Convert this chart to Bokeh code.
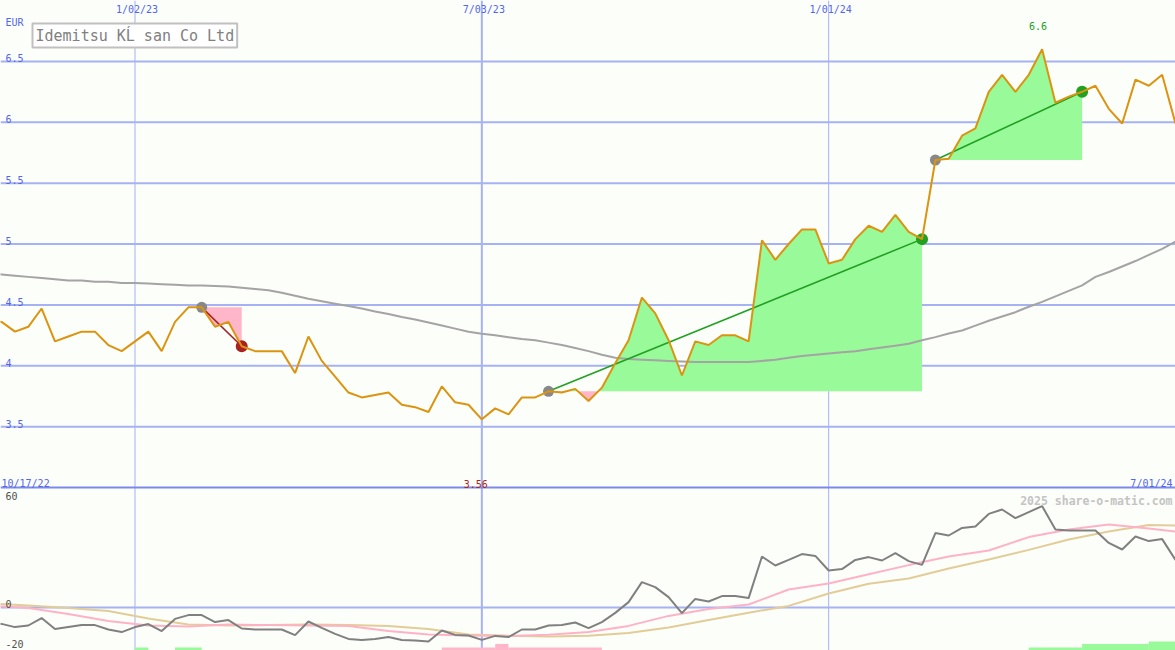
import numpy as np
import pandas as pd
from bokeh.plotting import figure
from bokeh.models import Range1d, Span, Label
from bokeh.core.properties import value
from bokeh.embed import file_html
from bokeh.resources import INLINE

# ---------------- data ----------------
title = "Idemitsu KĹ san Co Ltd"
currency = "EUR"
first_date = "2022-10-17"          # weekly closes, Mondays

close = [4.37, 4.36, 4.28, 4.32, 4.47, 4.20, 4.24, 4.28, 4.28, 4.17,
         4.12, 4.20, 4.28, 4.12, 4.36, 4.48, 4.48, 4.32, 4.36, 4.16,
         4.12, 4.12, 4.12, 3.94, 4.24, 4.04, 3.91, 3.78, 3.74, 3.76,
         3.78, 3.68, 3.66, 3.62, 3.83, 3.70, 3.68, 3.56, 3.65, 3.60,
         3.74, 3.74, 3.79, 3.78, 3.81, 3.71, 3.82, 4.02, 4.21, 4.56,
         4.43, 4.21, 3.92, 4.20, 4.17, 4.25, 4.25, 4.20, 5.03, 4.87,
         5.00, 5.12, 5.12, 4.84, 4.87, 5.04, 5.15, 5.10, 5.24, 5.10,
         5.04, 5.69, 5.70, 5.89, 5.95, 6.25, 6.39, 6.25, 6.39, 6.60,
         6.16, 6.21, 6.25, 6.30, 6.11, 5.99, 6.35, 6.30, 6.39, 5.99]

long_ma = [4.76, 4.75, 4.74, 4.73, 4.72, 4.71, 4.70, 4.70, 4.69, 4.69,
           4.68, 4.68, 4.675, 4.67, 4.665, 4.66, 4.66, 4.655, 4.65, 4.64,
           4.63, 4.62, 4.60, 4.575, 4.55, 4.53, 4.51, 4.49, 4.47, 4.445,
           4.425, 4.40, 4.38, 4.355, 4.33, 4.305, 4.28, 4.263, 4.25, 4.235,
           4.22, 4.21, 4.19, 4.17, 4.145, 4.12, 4.09, 4.065, 4.055, 4.05,
           4.045, 4.04, 4.035, 4.03, 4.03, 4.03, 4.03, 4.03, 4.04, 4.05,
           4.065, 4.08, 4.09, 4.10, 4.11, 4.12, 4.135, 4.15, 4.165, 4.18,
           4.21, 4.235, 4.265, 4.29, 4.33, 4.37, 4.405, 4.44, 4.485, 4.525,
           4.57, 4.615, 4.66, 4.73, 4.77, 4.815, 4.86, 4.91, 4.96, 5.02]

momentum = [-8.0, -8.2, -9.8, -9.0, -5.3, -10.8, -9.8, -8.8, -8.8, -11.0,
            -12.3, -9.8, -8.3, -11.8, -5.7, -3.8, -3.8, -7.3, -6.3, -10.5,
            -11.0, -11.0, -11.0, -13.8, -7.0, -10.2, -13.2, -15.7, -16.2, -15.7,
            -14.8, -16.2, -16.5, -17.0, -11.5, -13.7, -14.0, -16.2, -14.2, -14.8,
            -11.0, -11.0, -9.0, -8.8, -7.5, -10.3, -7.3, -2.7, 2.7, 12.7,
            10.2, 5.2, -2.8, 4.3, 3.0, 5.7, 5.7, 4.7, 25.5, 21.0,
            23.8, 26.7, 25.8, 18.5, 19.2, 23.8, 25.2, 23.5, 27.2, 23.2,
            21.3, 37.2, 36.0, 39.8, 40.5, 46.8, 49.0, 44.7, 47.7, 50.7,
            39.0, 38.5, 38.5, 38.5, 32.3, 29.0, 35.5, 33.2, 34.2, 23.8]

avg_weeks = [0, 3, 6, 9, 12, 15, 18, 21, 24, 27, 30, 33, 36, 39, 42, 45,
             48, 51, 54, 57, 60, 63, 66, 69, 72, 75, 78, 81, 84, 87, 89]
avg_fast = [1.0, -0.3, -3.3, -6.8, -9.0, -9.5, -8.5, -8.8, -9.0, -9.3, -11.8,
            -13.5, -14.0, -14.3, -13.6, -12.3, -9.2, -4.2, -0.8, 1.5, 9.0,
            12.0, 16.6, 21.2, 25.5, 28.5, 35.2, 39.0, 41.5, 39.5, 38.0]
avg_slow = [2.0, 1.0, -0.2, -1.8, -5.5, -8.5, -9.0, -8.8, -8.5, -8.8, -9.2,
            -10.8, -13.5, -14.1, -14.5, -14.1, -12.8, -10.0, -6.2, -2.6, 0.8,
            7.0, 11.9, 14.5, 19.5, 24.0, 28.8, 34.0, 38.0, 41.2, 41.0]

# trade signals (week index of entry and exit)
sig_start = [16, 42, 71]
sig_end = [19, 70, 82]
sig_kind = ["sell", "buy", "buy"]

# signal strength bars in lower panel
bar_start = ["2023-01-02", "2023-01-23", "2023-06-12", "2023-07-10", "2023-07-17",
             "2024-04-15", "2024-05-13", "2024-06-17"]
bar_end = ["2023-01-09", "2023-02-06", "2023-07-10", "2023-07-17", "2023-09-04",
           "2024-05-13", "2024-06-17", "2024-07-08"]
bar_height = [1.5, 1.5, 1.5, 3.3, 1.5, 1.5, 3.3, 4.5]
bar_kind = ["buy", "buy", "sell", "sell", "sell", "buy", "buy", "buy"]

price_ticks = [3.5, 4.0, 4.5, 5.0, 5.5, 6.0, 6.5]
price_tick_labels = ["3.5", "4", "4.5", "5", "5.5", "6", "6.5"]
osc_ticks = [60, 0, -20]
osc_tick_labels = ["60", "0", "-20"]
date_ticks = ["2023-01-02", "2023-07-03", "2024-01-01"]
date_tick_labels = ["1/02/23", "7/03/23", "1/01/24"]
start_label = "10/17/22"
end_label = "7/01/24"
watermark = "2025 share-o-matic.com"

# ---------------- styling ----------------
W, H = 1175, 650
BG = "#fcfefa"
GRID = "#a6b2f2"
SEP = "#7b89ea"
TICK_BLUE = "#5266ee"
PRICE_C = "#dc9410"
MA_C = "#a4a4a4"
GREEN_FILL = "#98fa98"
PINK_FILL = "#ffb6c8"
GREEN_LINE = "#22a022"
RED_LINE = "#a82222"
DOT_GRAY = "#888888"
MONO = value("DejaVu Sans Mono")

view_start = "2022-10-23 10:00"
view_end = "2024-07-01"
PRICE_TOP, PRICE_SPLIT = 7.0, 3.0
OSC_SPLIT, OSC_BOTTOM = 60.0, -21.5
split_frac = 487.0 / 650.0          # top panel share of height
price_bottom = PRICE_SPLIT - (PRICE_TOP - PRICE_SPLIT) * (1 - split_frac) / split_frac
osc_top = OSC_BOTTOM + (OSC_SPLIT - OSC_BOTTOM) / (1 - split_frac)


def ms(d):
    return pd.Timestamp(d).value / 1e6


dates = pd.date_range(first_date, periods=len(close), freq="7D")
xs = np.array([ms(d) for d in dates])
close_a = np.array(close)

p = figure(width=W, height=H, output_backend="svg", toolbar_location=None,
           x_axis_type="datetime", x_axis_location=None, y_axis_location=None,
           x_range=Range1d(ms(view_start), ms(view_end)),
           y_range=Range1d(price_bottom, PRICE_TOP),
           min_border=0, min_border_left=0, min_border_right=0,
           min_border_top=0, min_border_bottom=0,
           background_fill_color=BG, border_fill_color=BG, outline_line_color=None)
p.extra_y_ranges = {"osc": Range1d(OSC_BOTTOM, osc_top)}
p.grid.visible = False

# grid lines
for t in price_ticks:
    p.add_layout(Span(location=t, dimension="width", line_color=GRID,
                      line_width=2, level="underlay"))
for d, lw in zip(date_ticks, [1, 2, 1]):
    p.add_layout(Span(location=ms(d), dimension="height", line_color=GRID,
                      line_width=lw, level="underlay"))
p.add_layout(Span(location=0, dimension="width", y_range_name="osc",
                  line_color=GRID, line_width=2, level="underlay"))
p.add_layout(Span(location=PRICE_SPLIT, dimension="width", line_color=SEP,
                  line_width=2, level="underlay"))


# signal shading
def refine(x, y, level):
    rx, ry = [x[0]], [y[0]]
    for i in range(1, len(x)):
        a, b = y[i - 1] - level, y[i] - level
        if a * b < 0:
            t = a / (a - b)
            rx.append(x[i - 1] + t * (x[i] - x[i - 1]))
            ry.append(level)
        rx.append(x[i])
        ry.append(y[i])
    return np.array(rx), np.array(ry)


for s, e, k in zip(sig_start, sig_end, sig_kind):
    lvl = close_a[s]
    rx, ry = refine(xs[s:e + 1], close_a[s:e + 1], lvl)
    p.varea(x=rx, y1=np.full(len(rx), lvl), y2=np.maximum(ry, lvl),
            fill_color=GREEN_FILL)
    p.varea(x=rx, y1=np.full(len(rx), lvl), y2=np.minimum(ry, lvl),
            fill_color=PINK_FILL)

# long moving average (drawn over the shading)
p.line(xs, long_ma, line_color=MA_C, line_width=2)

for s, e, k in zip(sig_start, sig_end, sig_kind):
    c = GREEN_LINE if k == "buy" else RED_LINE
    p.line([xs[s], xs[e]], [close_a[s], close_a[e]], line_color=c, line_width=1.6)
    p.scatter([xs[s]], [close_a[s]], size=11, fill_color=DOT_GRAY, line_color=None)
    p.scatter([xs[e]], [close_a[e]], size=12, fill_color=c, line_color=None)

# price
p.line(xs, close_a, line_color=PRICE_C, line_width=2)

# lower panel
bx = np.array([ms(dates[0]) + w * 7 * 86400000.0 for w in avg_weeks])
p.line(bx, avg_slow, y_range_name="osc", line_color="#e2cc98", line_width=2)
p.line(bx, avg_fast, y_range_name="osc", line_color="#ffb2c6", line_width=2)
p.line(xs, momentum, y_range_name="osc", line_color="#808080", line_width=2)
p.quad(left=[ms(d) for d in bar_start], right=[ms(d) for d in bar_end],
       bottom=[OSC_BOTTOM - 5] * len(bar_height),
       top=[OSC_BOTTOM + h for h in bar_height],
       fill_color=[GREEN_FILL if k == "buy" else PINK_FILL for k in bar_kind],
       line_color=None, y_range_name="osc")

# ---------------- texts ----------------
x0, x1 = ms(view_start), ms(view_end)
p.text(x=[x0] * len(price_ticks), y=price_ticks, text=price_tick_labels,
       x_offset=5, y_offset=-3, text_font=MONO, text_font_size="10px",
       text_color=TICK_BLUE, text_baseline="alphabetic", text_align="left")
p.text(x=[x0], y=[PRICE_TOP], text=[currency], x_offset=5, y_offset=16,
       text_font=MONO, text_font_size="10px", text_color=TICK_BLUE,
       text_baseline="top", text_align="left")
p.text(x=[ms(d) for d in date_ticks], y=[PRICE_TOP] * 3, text=date_tick_labels,
       x_offset=2, y_offset=3, text_font=MONO, text_font_size="10px",
       text_color=TICK_BLUE, text_baseline="top", text_align="center")
p.text(x=[x0], y=[PRICE_SPLIT], text=[start_label], x_offset=1, y_offset=-4,
       text_font=MONO, text_font_size="10px", text_color=TICK_BLUE,
       text_baseline="alphabetic", text_align="left")
p.text(x=[x1], y=[PRICE_SPLIT], text=[end_label], x_offset=-3, y_offset=-4,
       text_font=MONO, text_font_size="10px", text_color=TICK_BLUE,
       text_baseline="alphabetic", text_align="right")

imin, imax = int(np.argmin(close_a)), int(np.argmax(close_a))
p.text(x=[xs[imin]], y=[PRICE_SPLIT], text=[f"{close_a[imin]:.2f}"],
       x_offset=-6, y_offset=-4, text_font=MONO, text_font_size="10px",
       text_color="#b22222", text_baseline="alphabetic", text_align="center")
p.text(x=[xs[imax]], y=[PRICE_TOP], text=[f"{close_a[imax]:.1f}"],
       x_offset=-4, y_offset=25, text_font=MONO, text_font_size="10px",
       text_color=GREEN_LINE, text_baseline="alphabetic", text_align="center")

for t, lab in zip(osc_ticks, osc_tick_labels):
    top = t >= OSC_SPLIT
    p.text(x=[x0], y=[t], text=[lab], y_range_name="osc", x_offset=5,
           y_offset=4 if top else -4, text_font=MONO, text_font_size="10px",
           text_color="#505050", text_baseline="top" if top else "alphabetic",
           text_align="left")

p.text(x=[x1], y=[OSC_SPLIT], text=[watermark], y_range_name="osc",
       x_offset=-3, y_offset=13, text_font=MONO, text_font_size="11.5px",
       text_font_style="bold", text_color="#c4c4c4",
       text_baseline="alphabetic", text_align="right")

p.add_layout(Label(x=x0, y=PRICE_TOP, text=title, x_offset=32, y_offset=-23,
                   text_font="DejaVu Sans Mono", text_font_size="15px",
                   text_color="#808080", text_align="left",
                   text_baseline="top", padding=3,
                   background_fill_color="#ffffff",
                   border_line_color="#c0c0c0", border_line_width=2))

open("out.html", "w").write(file_html(p, INLINE))
